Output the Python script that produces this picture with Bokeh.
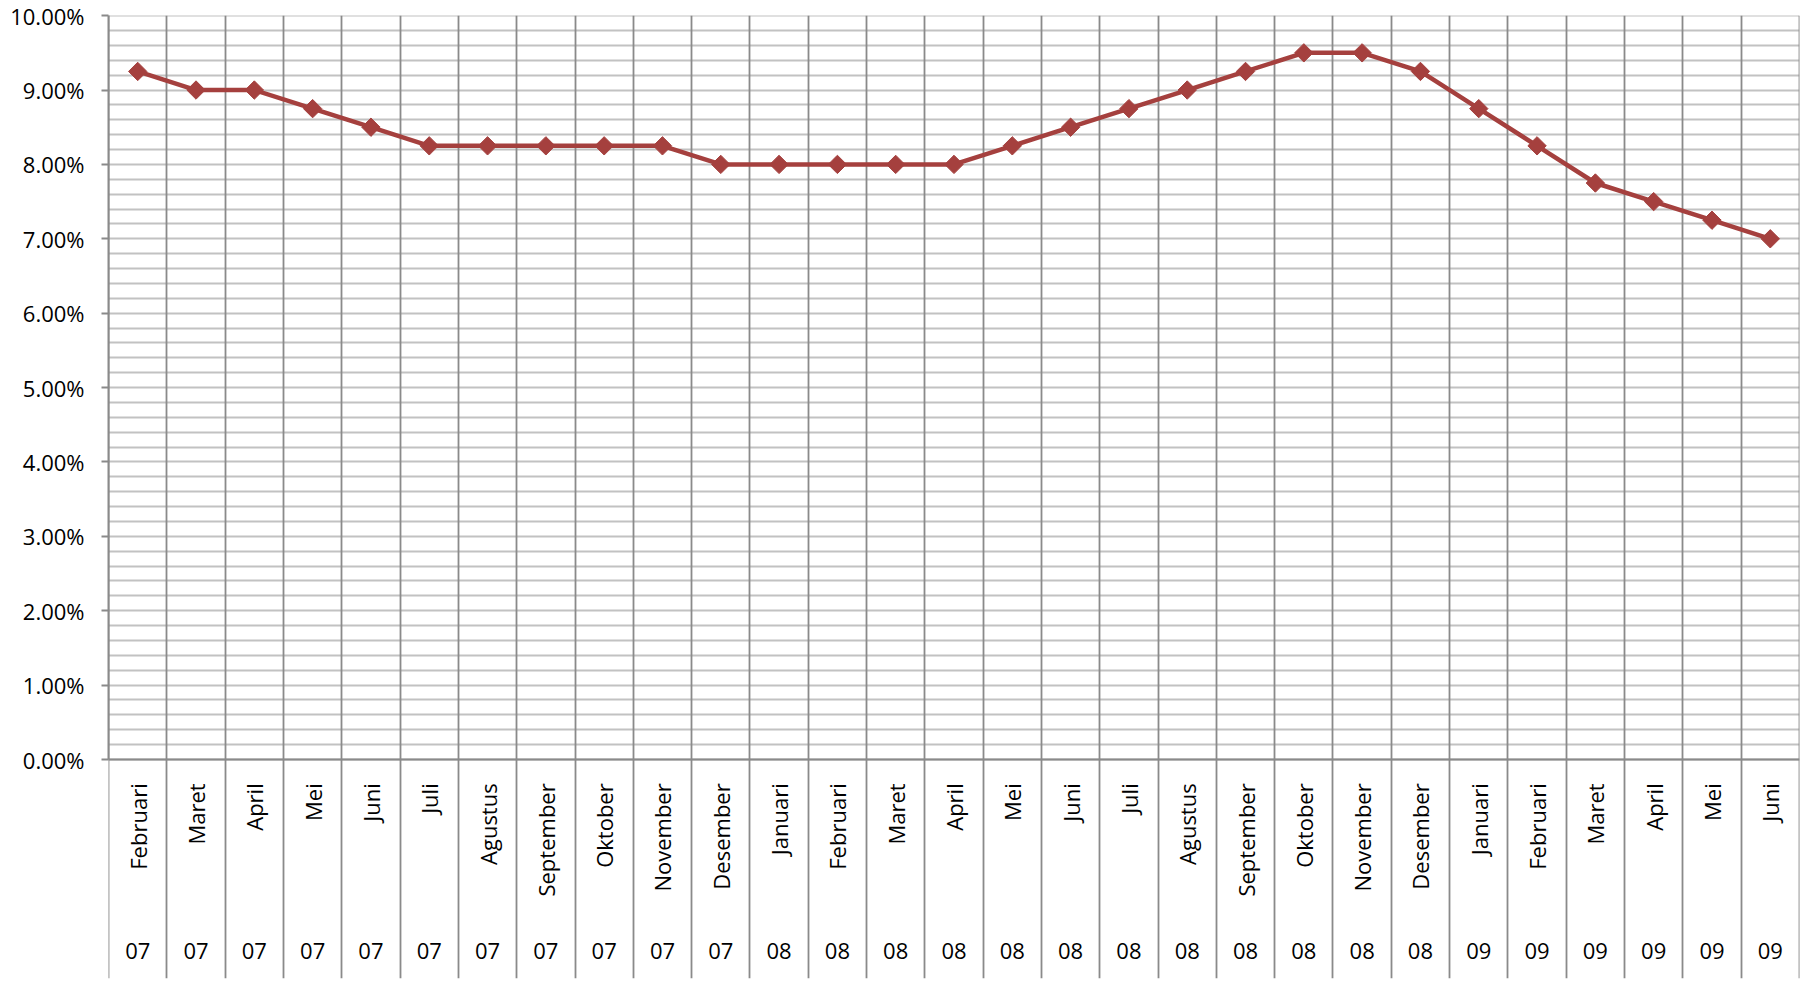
import numpy as np
from math import pi
from bokeh.plotting import figure
from bokeh.models import Range1d, FixedTicker, NumeralTickFormatter, Grid, Span, ColumnDataSource
from bokeh.core.properties import value
from bokeh.embed import file_html
from bokeh.resources import INLINE

# ---- data ----
months = ["Februari", "Maret", "April", "Mei", "Juni", "Juli", "Agustus", "September",
          "Oktober", "November", "Desember",
          "Januari", "Februari", "Maret", "April", "Mei", "Juni", "Juli", "Agustus",
          "September", "Oktober", "November", "Desember",
          "Januari", "Februari", "Maret", "April", "Mei", "Juni"]
years = ["07"] * 11 + ["08"] * 12 + ["09"] * 6
rates = [0.0925, 0.0900, 0.0900, 0.0875, 0.0850, 0.0825, 0.0825, 0.0825, 0.0825, 0.0825,
         0.0800, 0.0800, 0.0800, 0.0800, 0.0800, 0.0825, 0.0850, 0.0875, 0.0900, 0.0925,
         0.0950, 0.0950, 0.0925, 0.0875, 0.0825, 0.0775, 0.0750, 0.0725, 0.0700]
y_major = [round(i * 0.01, 4) for i in range(11)]
y_minor = [round(i * 0.002, 4) for i in range(51) if i % 5 != 0]

n = len(months)
xs = np.arange(n) + 0.5
src = ColumnDataSource(dict(x=xs, rate=rates, month=months, year=years))

FONT = "Open Sans"
FSIZE = "22px"
VGRID = "#8a8a8a"
HGRID = "#c2c2c2"
RED = "#a5403e"

p = figure(width=1801, height=984, output_backend="svg", toolbar_location=None,
           x_axis_location=None, y_axis_location="left",
           x_range=Range1d(-0.001, n + 0.001), y_range=Range1d(-0.02944, 0.10002),
           min_border_left=108, min_border_right=2, min_border_top=15, min_border_bottom=6)
p.outline_line_color = None
p.background_fill_color = "white"
p.border_fill_color = "white"

# remove any default vertical grids
for g in p.xgrid:
    g.visible = False

# y axis
ya = p.yaxis[0]
ya.ticker = FixedTicker(ticks=y_major, minor_ticks=y_minor)
ya.formatter = NumeralTickFormatter(format="0.00%")
ya.bounds = (0, 0.10)
ya.axis_line_color = VGRID
ya.axis_line_width = 2
ya.major_tick_line_color = VGRID
ya.major_tick_line_width = 2
ya.major_tick_out = 7
ya.major_tick_in = 0
ya.minor_tick_line_color = None
ya.major_label_standoff = 17
ya.major_label_text_font = FONT
ya.major_label_text_font_size = FSIZE
ya.major_label_text_color = "#000000"

# horizontal grid
for g in p.ygrid:
    g.ticker = FixedTicker(ticks=y_major, minor_ticks=y_minor)
    g.bounds = (0, 0.10)
    g.grid_line_color = HGRID
    g.grid_line_width = 1.8
    g.minor_grid_line_color = HGRID
    g.minor_grid_line_width = 1.8

# vertical category separators
vg = Grid(dimension=0, ticker=FixedTicker(ticks=list(range(n + 1))),
          grid_line_color=VGRID, grid_line_width=1.8, level="underlay")
p.add_layout(vg)

# category axis line at 0
p.add_layout(Span(location=0, dimension="width", line_color=VGRID, line_width=2, level="underlay"))

# series
p.line("x", "rate", source=src, line_color=RED, line_width=4.5)
p.scatter("x", "rate", source=src, marker="square", angle=pi / 4, size=13,
          fill_color=RED, line_color=RED)

# category labels
p.text("x", -0.0032, text="month", source=src, angle=pi / 2, text_align="right",
       text_baseline="middle", text_font=value(FONT), text_font_size=FSIZE, text_color="#000000")
p.text("x", -0.0258, text="year", source=src, text_align="center",
       text_baseline="middle", text_font=value(FONT), text_font_size=FSIZE, text_color="#000000")

open("out.html", "w").write(file_html(p, INLINE))
